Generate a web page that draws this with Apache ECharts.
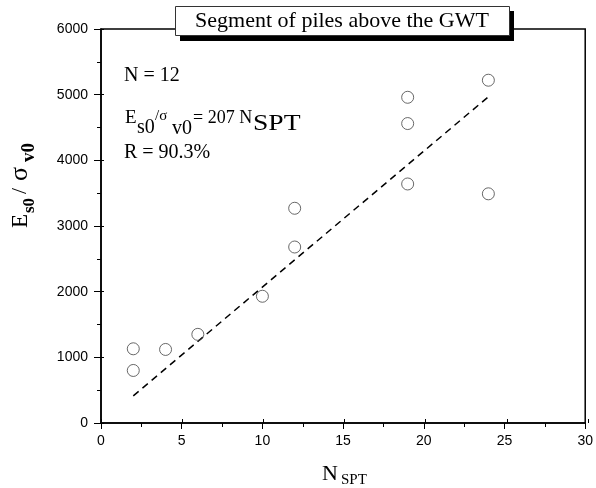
<!DOCTYPE html>
<html><head><meta charset="utf-8">
<script src="https://cdn.jsdelivr.net/npm/echarts@6/dist/echarts.min.js"></script>
<style>html,body{margin:0;padding:0;background:#fff}#c{width:596px;height:488px}</style>
</head><body><div id="c"></div>
<script>
// ---- data ----
const nspt  = [2, 2, 4, 6, 10, 12, 12, 19, 19, 19, 24, 24];
const ratio = [1130, 800, 1120, 1350, 1930, 3270, 2680, 4960, 4560, 3640, 5220, 3490];
const fitX = [2, 24];
const fitY = [414, 4968];
const xTickValues = [0, 5, 10, 15, 20, 25, 30];
const yTickValues = [0, 1000, 2000, 3000, 4000, 5000, 6000];
const titleText = 'Segment of piles above the GWT';

const SERIF = '"Liberation Serif", "Times New Roman", serif';
const SANS = '"Liberation Sans", Arial, sans-serif';

const chart = echarts.init(document.getElementById('c'), null, {renderer: 'canvas'});
const G = {left: 101, right: 8, top: 29, bottom: 65};
const xr = {min: xTickValues[0], max: xTickValues[xTickValues.length - 1], interval: xTickValues[1] - xTickValues[0]};
const yr = {min: yTickValues[0], max: yTickValues[yTickValues.length - 1], interval: yTickValues[1] - yTickValues[0]};

// text placed by its left edge and its baseline
function t(text, x, baseline, size, opts) {
  opts = opts || {};
  const el = {type: 'text', x: x, y: baseline - 0.805 * size, silent: true, z: 12,
    style: {text: text, font: (opts.bold ? 'bold ' : '') + size + 'px ' + SERIF,
      fill: '#000', align: 'left', verticalAlign: 'top'}};
  if (opts.sx) { el.scaleX = opts.sx; el.originX = 0; el.originY = 0; }
  return el;
}

const option = {
  animation: false,
  backgroundColor: '#fff',
  grid: [
    Object.assign({show: true, borderColor: '#000', borderWidth: 1.5, backgroundColor: 'transparent'}, G),
    Object.assign({show: false}, G)
  ],
  xAxis: [
    {type: 'value', gridIndex: 0, min: xr.min, max: xr.max, interval: xr.interval,
      axisLine: {show: true, onZero: false, lineStyle: {color: '#000', width: 1.5}},
      axisTick: {show: true, inside: false, length: 6, lineStyle: {color: '#000', width: 1}},
      minorTick: {show: true, splitNumber: 2, length: 4, lineStyle: {color: '#000', width: 1}},
      axisLabel: {show: true, margin: 11, color: '#000', fontFamily: SANS, fontSize: 14,
        formatter: v => String(v)},
      splitLine: {show: false}},
    {type: 'value', gridIndex: 1, min: xr.min, max: xr.max, interval: xr.interval,
      axisLine: {show: false},
      axisTick: {show: true, inside: true, length: 4, lineStyle: {color: '#000', width: 1}},
      axisLabel: {show: false}, splitLine: {show: false}}
  ],
  yAxis: [
    {type: 'value', gridIndex: 0, min: yr.min, max: yr.max, interval: yr.interval,
      axisLine: {show: true, onZero: false, lineStyle: {color: '#000', width: 1.5}},
      axisTick: {show: true, inside: false, length: 7, lineStyle: {color: '#000', width: 1}},
      minorTick: {show: true, splitNumber: 2, length: 4, lineStyle: {color: '#000', width: 1}},
      axisLabel: {show: true, margin: 13, color: '#000', fontFamily: SANS, fontSize: 14,
        formatter: v => String(v)},
      splitLine: {show: false}},
    {type: 'value', gridIndex: 1, min: yr.min, max: yr.max, interval: yr.interval,
      axisLine: {show: false},
      axisTick: {show: true, inside: true, length: 3, lineStyle: {color: '#000', width: 1}},
      axisLabel: {show: false}, splitLine: {show: false}}
  ],
  series: [
    {type: 'line', xAxisIndex: 0, yAxisIndex: 0, data: fitX.map((x, i) => [x, fitY[i]]),
      showSymbol: false, symbol: 'none', silent: true,
      lineStyle: {color: '#000', width: 1.5, type: [7, 5]}, z: 2},
    {type: 'scatter', xAxisIndex: 0, yAxisIndex: 0, data: nspt.map((x, i) => [x, ratio[i]]),
      symbol: 'circle', symbolSize: 12,
      itemStyle: {color: 'rgba(255,255,255,0)', borderColor: '#444', borderWidth: 1}, z: 3}
  ],
  graphic: [
    // title box with shadow
    {type: 'rect', z: 10, shape: {x: 180, y: 11, width: 334, height: 30}, style: {fill: '#000'}},
    {type: 'rect', z: 11, shape: {x: 175.5, y: 6.5, width: 334, height: 29}, style: {fill: '#fff', stroke: '#333', lineWidth: 1}},
    {type: 'text', x: 342, y: 21, z: 12, style: {text: titleText, font: '22px ' + SERIF, fill: '#000', align: 'center', verticalAlign: 'middle'}},
    // annotations
    t('N = 12', 124, 82, 20),
    t('E', 125, 124, 19),
    t('s0', 137, 134, 20),
    t('/σ', 155, 121, 15),
    t('v0', 172, 135, 20),
    t('= 207 N', 193, 124, 18),
    t('SPT', 253, 131, 23, {sx: 1.2}),
    t('R = 90.3%', 124, 159, 20),
    // x-axis name
    t('N', 322, 481, 22),
    t('SPT', 341, 485, 15),
    // y-axis name (rotated, reads bottom to top)
    {type: 'group', x: 28, y: 228, rotation: Math.PI / 2, children: [
      t('E', 0, 0, 23),
      t('s0', 15, 7, 17, {bold: true}),
      t('/', 34, -1, 22),
      t('σ', 47, 0, 26),
      t('v0', 66, 7, 19, {bold: true})
    ]}
  ]
};
chart.setOption(option);
</script>
</body></html>
